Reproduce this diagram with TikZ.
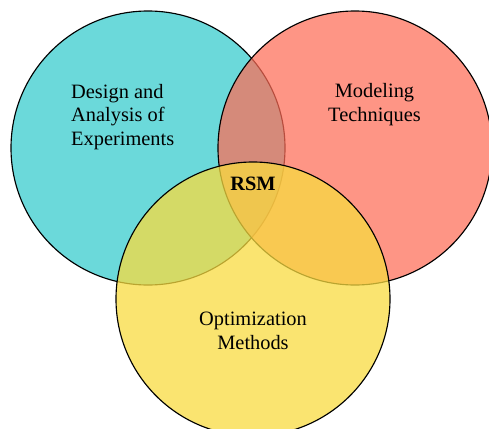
\documentclass[tikz,border=0pt]{standalone}
\usepackage{fontspec}
\setmainfont{Liberation Serif}
\usepackage{tikz}
\definecolor{doecyan}{RGB}{107,217,218}
\definecolor{modred}{RGB}{254,108,86}
\definecolor{optyellow}{RGB}{248,219,64}
\tikzset{
    set/.style = {draw=black, line width=0.65pt},
    settext/.style = {font=\fontsize{11.6}{13.6}\selectfont}
}

\begin{document}
\begin{tikzpicture}
        \useasboundingbox (0, 0) rectangle (9.78, 8.56);
        \filldraw[set, fill=doecyan] (2.96, 5.60) circle (2.74);
        \filldraw[set, fill=modred, fill opacity=0.72] (7.10, 5.60) circle (2.74);
        \filldraw[set, fill=optyellow, fill opacity=0.75] (5.06, 2.58) circle (2.74);
        \node[settext, align=left, anchor=west] (doe) at (1.30, 6.22) {Design and\\Analysis of\\Experiments};
        \node[settext, align=center] (mod) at (7.49, 6.46) {Modeling\\Techniques};
        \node[settext, align=center] (opt) at (5.06, 1.94) {Optimization\\Methods};
        \node[settext, font=\fontsize{11.6}{13.6}\selectfont\bfseries] (rsm) at (5.06, 4.88) {RSM};
    \end{tikzpicture}
\end{document}
